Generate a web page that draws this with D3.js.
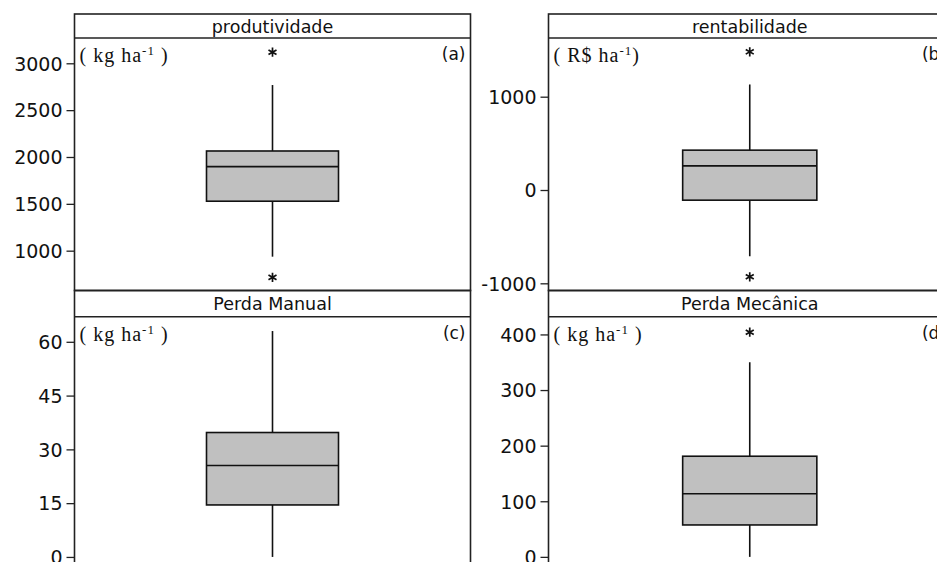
<!DOCTYPE html>
<html><head><meta charset="utf-8">
<script src="https://cdn.jsdelivr.net/npm/d3@7"></script>
<style>html,body{margin:0;padding:0;background:#fff;overflow:hidden}</style>
</head><body>
<svg id="c" width="937" height="562"></svg>
<script>
const panelTitles = ["produtividade", "rentabilidade", "Perda Manual", "Perda Mecânica"];
const panelTags = ["(a)", "(b)", "(c)", "(d)"];
const unitMain = ["( kg ha", "( R$ ha", "( kg ha", "( kg ha"];
const unitEnd = [" )", ")", " )", " )"];
const q1 = [1528, -109, 14.5, 57.4];
const median = [1897, 259, 25.5, 113.5];
const q3 = [2064, 427, 34.7, 181];
const whiskerLow = [936, -710, 0, 0];
const whiskerHigh = [2768, 1131, 63, 350];
const outliers = [[3118, 715], [1481, -930], [], [404]];
const tickValues = [[1000, 1500, 2000, 2500, 3000], [-1000, 0, 1000], [0, 15, 30, 45, 60], [0, 100, 200, 300, 400]];
const yDomains = [[575, 3270], [-1077, 1629], [-4.2, 67.0], [-27.2, 431.9]];

const svg = d3.select("#c");
const cols = [[74.5, 470.5], [548.5, 951]];
const rows = [[14, 38, 290.5], [290.5, 316.7, 572]];
const sans = "'DejaVu Sans', Verdana, sans-serif";
const serif = "'Liberation Serif', 'DejaVu Serif', serif";

panelTitles.forEach((title, i) => {
  const [x0, x1] = cols[i % 2];
  const [hTop, bTop, bBot] = rows[Math.floor(i / 2)];
  const g = svg.append("g");
  const y = d3.scaleLinear().domain(yDomains[i]).range([bBot, bTop]);
  const x = d3.scaleBand().domain([title]).range([x0, x1]).paddingInner(0).paddingOuter(1);
  const cx = x(title) + x.bandwidth() / 2;
  const bw = (x1 - x0) / 3;

  // frame
  g.append("rect").attr("x", x0).attr("y", hTop).attr("width", x1 - x0).attr("height", bBot - hTop)
    .attr("fill", "none").attr("stroke", "#222").attr("stroke-width", 1.6);
  g.append("line").attr("x1", x0).attr("x2", x1).attr("y1", bTop).attr("y2", bTop)
    .attr("stroke", "#222").attr("stroke-width", 1.6);
  g.append("text").attr("x", (x0 + x1) / 2).attr("y", hTop + (bTop - hTop) / 2 + 6.5)
    .attr("text-anchor", "middle").attr("font-family", sans).attr("font-size", 17.5)
    .attr("fill", "#111").text(title);

  // axis
  const ax = g.append("g").attr("transform", `translate(${x0},0)`)
    .call(d3.axisLeft(y).tickValues(tickValues[i]).tickSize(8).tickPadding(4).tickSizeOuter(0)
      .tickFormat(d => String(d)));
  ax.select(".domain").remove();
  ax.selectAll("line").attr("stroke", "#222").attr("stroke-width", 1.3);
  ax.selectAll("text").attr("font-family", sans).attr("font-size", 19)
    .attr("fill", "#111").attr("dy", "0.36em");

  // whiskers
  g.append("line").attr("x1", cx).attr("x2", cx).attr("y1", y(q3[i])).attr("y2", y(whiskerHigh[i]))
    .attr("stroke", "#111").attr("stroke-width", 1.6);
  g.append("line").attr("x1", cx).attr("x2", cx).attr("y1", y(q1[i])).attr("y2", y(whiskerLow[i]))
    .attr("stroke", "#111").attr("stroke-width", 1.6);
  // box
  g.append("rect").attr("x", cx - bw / 2).attr("width", bw)
    .attr("y", y(q3[i])).attr("height", y(q1[i]) - y(q3[i]))
    .attr("fill", "#c0c0c0").attr("stroke", "#111").attr("stroke-width", 1.6);
  g.append("line").attr("x1", cx - bw / 2).attr("x2", cx + bw / 2).attr("y1", y(median[i])).attr("y2", y(median[i]))
    .attr("stroke", "#111").attr("stroke-width", 1.6);
  // outliers
  const sym = d3.symbol().type(d3.symbolAsterisk).size(60);
  outliers[i].forEach(v => {
    g.append("path").attr("d", sym()).attr("transform", `translate(${cx},${y(v)})`)
      .attr("fill", "none").attr("stroke", "#111").attr("stroke-width", 1.7);
  });

  // unit label
  const t = g.append("text").attr("x", x0 + 5).attr("y", bTop + 24)
    .attr("font-family", serif).attr("font-size", 20).attr("letter-spacing", 1)
    .attr("fill", "#111");
  t.append("tspan").text(unitMain[i]);
  t.append("tspan").attr("font-size", 13).attr("dy", -7).text("-1");
  t.append("tspan").attr("dy", 7).text(unitEnd[i]);

  // tag
  g.append("text").attr("x", x1 - 5).attr("y", bTop + 22).attr("text-anchor", "end")
    .attr("font-family", sans).attr("font-size", 17).attr("fill", "#111").text(panelTags[i]);
});
</script>
</body></html>
